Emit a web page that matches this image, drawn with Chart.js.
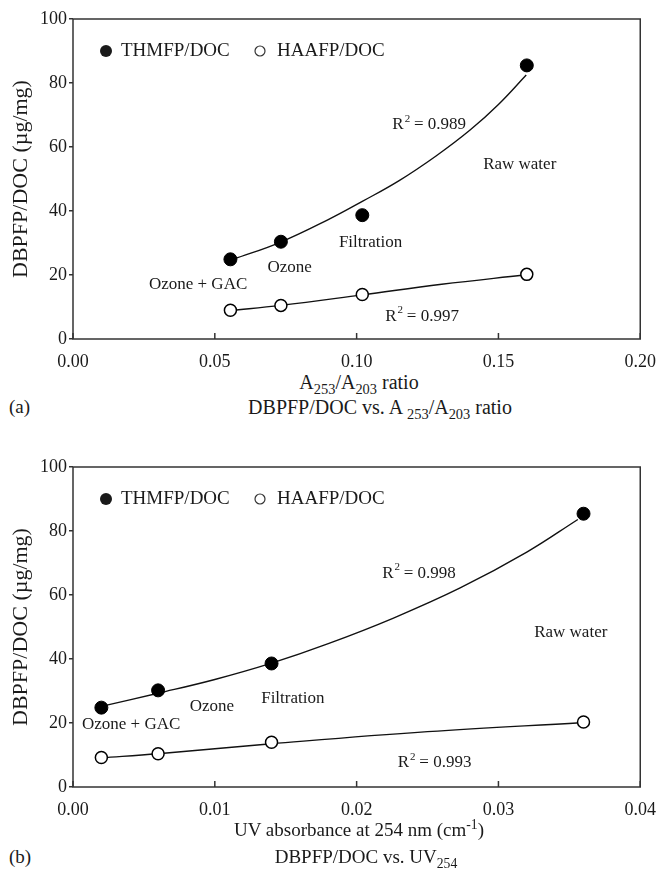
<!DOCTYPE html>
<html>
<head>
<meta charset="utf-8">
<script src="https://cdn.jsdelivr.net/npm/chart.js@4.4.1/dist/chart.umd.min.js"></script>
<style>
  body { margin: 0; background: #fff; font-family: 'Liberation Serif', serif; color: #1a1a1a; }
  #page { position: relative; width: 660px; height: 873px; overflow: hidden; }
  .box { position: absolute; left: 0; width: 660px; height: 370px; }
  .txt { position: absolute; font-size: 19px; white-space: nowrap; transform: translate(-50%, -50%); }
  .lbl { position: absolute; font-size: 19px; transform: translateY(-50%); }
  sub, sup { font-size: 72%; line-height: 0; }
</style>
</head>
<body>
<div id="page">
  <div class="box" style="top:0"><canvas id="chartA"></canvas></div>
  <div class="box" style="top:448px"><canvas id="chartB"></canvas></div>

  <div class="txt" style="left:359px; top:382px; font-size:20px">A<sub>253</sub>/A<sub>203</sub> ratio</div>
  <div class="lbl" style="left:9px; top:407px">(a)</div>
  <div class="txt" style="left:380px; top:407px; font-size:20px">DBPFP/DOC vs. A <sub>253</sub>/A<sub>203</sub> ratio</div>

  <div class="txt" style="left:359px; top:830px">UV absorbance at 254 nm (cm<sup>-1</sup>)</div>
  <div class="lbl" style="left:9px; top:857px">(b)</div>
  <div class="txt" style="left:366px; top:857px">DBPFP/DOC vs. UV<sub>254</sub></div>
</div>

<script>
// ---- (a) DBPFP/DOC vs. A253/A203 ratio ----
const ratioA = [0.0555, 0.0733, 0.102, 0.160];
const thmA = [24.9, 30.4, 38.7, 85.5];
const haaA = [9.0, 10.5, 13.9, 20.2];
// fitted curves
const thmFitXA = [0.0565, 0.0733, 0.090, 0.102, 0.115, 0.128, 0.140, 0.150, 0.1598];
const thmFitYA = [24.9, 30.3, 37.3, 43.0, 49.5, 57.2, 65.3, 73.3, 82.5];
const haaFitXA = [0.0555, 0.0733, 0.102, 0.130, 0.159];
const haaFitYA = [8.9, 10.5, 13.8, 17.1, 20.0];

// ---- (b) DBPFP/DOC vs. UV254 ----
const uvB = [0.002, 0.006, 0.014, 0.036];
const thmB = [24.8, 30.2, 38.6, 85.4];
const haaB = [9.2, 10.4, 14.0, 20.3];
const thmFitXB = [0.002, 0.006, 0.010, 0.014, 0.018, 0.0226, 0.0273, 0.032, 0.0356];
const thmFitYB = [25.2, 29.3, 33.6, 38.7, 44.8, 52.8, 62.2, 73.4, 83.6];
const haaFitXB = [0.002, 0.006, 0.014, 0.025, 0.0358];
const haaFitYB = [9.1, 10.4, 13.5, 17.3, 20.1];

const yTicks = [0, 20, 40, 60, 80, 100];
const seriesNames = ['THMFP/DOC', 'HAAFP/DOC'];

const notesA = [
  { r2: '0.989', x: 0.1126, y: 66.9 },
  { text: 'Raw water', x: 0.1575, y: 54.4 },
  { text: 'Filtration', x: 0.1049, y: 30.0 },
  { text: 'Ozone', x: 0.0764, y: 22.2 },
  { text: 'Ozone + GAC', x: 0.0441, y: 17.1 },
  { r2: '0.997', x: 0.1101, y: 7.0 }
];
const notesB = [
  { r2: '0.998', x: 0.0218, y: 66.8 },
  { text: 'Raw water', x: 0.0351, y: 48.3 },
  { text: 'Filtration', x: 0.0155, y: 27.7 },
  { text: 'Ozone', x: 0.0098, y: 25.0 },
  { text: 'Ozone + GAC', x: 0.0041, y: 19.5 },
  { r2: '0.993', x: 0.0229, y: 7.5 }
];

const FONT = "'Liberation Serif', 'DejaVu Serif', serif";
const INK = '#1a1a1a';

const pts = (xs, ys) => xs.map((x, i) => ({ x, y: ys[i] }));

// frame, inward x ticks, legend and text labels
const decor = {
  id: 'decor',
  afterDatasetsDraw(chart, args, opts) {
    const { ctx, chartArea: a, scales: { x, y } } = chart;
    ctx.save();
    ctx.strokeStyle = '#333';
    ctx.lineWidth = 1.5;
    ctx.strokeRect(a.left, a.top, a.right - a.left, a.bottom - a.top);
    x.ticks.forEach(t => {
      const px = x.getPixelForValue(t.value);
      ctx.beginPath();
      ctx.moveTo(px, a.bottom);
      ctx.lineTo(px, a.bottom - 6);
      ctx.stroke();
    });

    // legend
    ctx.fillStyle = INK;
    ctx.font = '19px ' + FONT;
    ctx.textBaseline = 'middle';
    ctx.textAlign = 'left';
    const ly = a.top + 32;
    ctx.beginPath();
    ctx.arc(a.left + 33, ly, 6, 0, Math.PI * 2);
    ctx.fill();
    ctx.fillText(seriesNames[0], a.left + 48, ly);
    ctx.beginPath();
    ctx.lineWidth = 1.2;
    ctx.arc(a.left + 187, ly, 5, 0, Math.PI * 2);
    ctx.stroke();
    ctx.fillText(seriesNames[1], a.left + 204, ly);

    // annotations
    opts.notes.forEach(n => {
      const px = x.getPixelForValue(n.x);
      const py = y.getPixelForValue(n.y);
      ctx.font = '17px ' + FONT;
      if (n.r2) {
        ctx.textAlign = 'left';
        ctx.fillText('R', px, py);
        const w = ctx.measureText('R').width;
        ctx.font = '11px ' + FONT;
        ctx.fillText('2', px + w + 1, py - 6);
        ctx.font = '17px ' + FONT;
        ctx.fillText(' = ' + n.r2, px + w + 6, py);
      } else {
        ctx.textAlign = 'center';
        ctx.fillText(n.text, px, py);
      }
    });
    ctx.restore();
  }
};

function makeChart(id, xMax, xStep, data, fits, notes) {
  const fitLine = pointsData => ({
    data: pointsData,
    showLine: true,
    pointRadius: 0,
    borderColor: '#111',
    borderWidth: 1.4,
    tension: 0.4,
    order: 1
  });
  return new Chart(document.getElementById(id), {
    type: 'scatter',
    data: {
      datasets: [
        {
          label: seriesNames[0],
          data: data[0],
          pointRadius: 6.5,
          pointBackgroundColor: '#000',
          pointBorderColor: '#000',
          order: 0
        },
        {
          label: seriesNames[1],
          data: data[1],
          pointRadius: 6,
          pointBorderWidth: 1.5,
          pointBackgroundColor: '#fff',
          pointBorderColor: '#000',
          order: 0
        },
        fitLine(fits[0]),
        fitLine(fits[1])
      ]
    },
    options: {
      responsive: true,
      maintainAspectRatio: false,
      animation: false,
      layout: { padding: { top: 19, right: 15, left: 0, bottom: 0 } },
      plugins: {
        legend: { display: false },
        tooltip: { enabled: false },
        decor: { notes }
      },
      scales: {
        x: {
          type: 'linear',
          min: 0,
          max: xMax,
          afterFit: s => { s.height = 31; },
          ticks: {
            stepSize: xStep,
            padding: 4,
            color: INK,
            font: { family: FONT, size: 18 },
            maxRotation: 0,
            callback: v => v.toFixed(2)
          },
          grid: { display: false },
          border: { display: false }
        },
        y: {
          min: 0,
          max: 100,
          afterFit: s => { s.width = 73; },
          afterBuildTicks: s => { s.ticks = yTicks.map(v => ({ value: v })); },
          ticks: {
            padding: 2,
            color: INK,
            font: { family: FONT, size: 18 }
          },
          grid: { drawOnChartArea: false, tickLength: 4, color: '#333', lineWidth: 1.5 },
          border: { display: false },
          title: {
            display: true,
            text: 'DBPFP/DOC (µg/mg)',
            color: INK,
            font: { family: FONT, size: 22 },
            padding: { top: 8, bottom: 0 }
          }
        }
      }
    },
    plugins: [decor]
  });
}

makeChart('chartA', 0.2, 0.05,
  [pts(ratioA, thmA), pts(ratioA, haaA)],
  [pts(thmFitXA, thmFitYA), pts(haaFitXA, haaFitYA)],
  notesA);

makeChart('chartB', 0.04, 0.01,
  [pts(uvB, thmB), pts(uvB, haaB)],
  [pts(thmFitXB, thmFitYB), pts(haaFitXB, haaFitYB)],
  notesB);
</script>
</body>
</html>
